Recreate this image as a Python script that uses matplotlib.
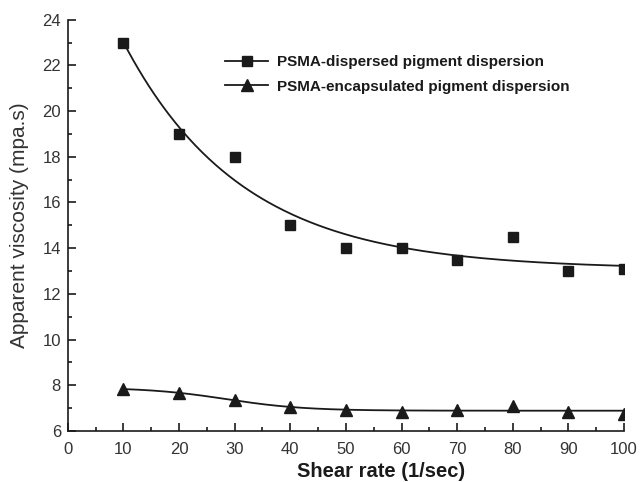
import numpy as np
import matplotlib
matplotlib.use("Agg")
import matplotlib.pyplot as plt

plt.rcParams['font.family'] = ['Liberation Sans', 'DejaVu Sans']

shear_rate = [10, 20, 30, 40, 50, 60, 70, 80, 90, 100]
dispersed = [23.0, 19.0, 18.0, 15.0, 14.0, 14.0, 13.5, 14.5, 13.0, 13.1]
encapsulated = [7.84, 7.65, 7.35, 7.05, 6.92, 6.84, 6.93, 7.08, 6.84, 6.75]

label_disp = 'PSMA-dispersed pigment dispersion'
label_enc = 'PSMA-encapsulated pigment dispersion'
ink = '#1a1a1a'


def exp_fit(x, y):
    # exponential decay y = y0 + A*exp(-x/t)
    x = np.asarray(x, float)
    y = np.asarray(y, float)
    best = None
    for t in np.linspace(2, 80, 800):
        M = np.column_stack([np.ones_like(x), np.exp(-x / t)])
        coef = np.linalg.lstsq(M, y, rcond=None)[0]
        err = np.sum((M @ coef - y) ** 2)
        if best is None or err < best[0]:
            best = (err, coef, t)
    _, (y0, a), t = best
    return lambda xx: y0 + a * np.exp(-xx / t)


def boltzmann_fit(x, y):
    # sigmoid y = A2 + (A1-A2)/(1+exp((x-x0)/dx))
    x = np.asarray(x, float)
    y = np.asarray(y, float)
    best = None
    for x0 in np.linspace(0, 60, 121):
        for dx in np.linspace(3, 30, 55):
            s = 1 / (1 + np.exp((x - x0) / dx))
            M = np.column_stack([np.ones_like(x), s])
            coef = np.linalg.lstsq(M, y, rcond=None)[0]
            err = np.sum((M @ coef - y) ** 2)
            if best is None or err < best[0]:
                best = (err, coef, x0, dx)
    _, (a2, d), x0, dx = best
    return lambda xx: a2 + d / (1 + np.exp((xx - x0) / dx))


xs = np.linspace(shear_rate[0], shear_rate[-1], 300)
f1 = exp_fit(shear_rate, dispersed)
f2 = boltzmann_fit(shear_rate, encapsulated)

fig = plt.figure(figsize=(6.4, 4.82), dpi=100)
ax = fig.add_axes([0.106, 0.106, 0.869, 0.853])

ax.plot(xs, f1(xs), color=ink, lw=1.3)
ax.plot(xs, f2(xs), color=ink, lw=1.3)
ax.plot(shear_rate, dispersed, 's', color=ink, ms=7)
ax.plot(shear_rate, encapsulated, '^', color=ink, ms=8)

# legend handles: line + marker
h1, = ax.plot([], [], '-s', color=ink, ms=7, lw=1.3)
h2, = ax.plot([], [], '-^', color=ink, ms=8, lw=1.3)
leg = ax.legend([h1, h2], [label_disp, label_enc], loc='upper left',
                bbox_to_anchor=(0.352, 0.886), bbox_transform=fig.transFigure,
                frameon=False, handlelength=2.8, handletextpad=0.6,
                labelspacing=0.7, borderpad=0, borderaxespad=0,
                prop={'weight': 'bold', 'size': 11})
for t in leg.get_texts():
    t.set_color(ink)

ax.set_xlim(0, 100)
ax.set_ylim(6, 24)
ax.set_xticks(range(0, 101, 10))
ax.set_xticks(range(5, 100, 10), minor=True)
ax.set_yticks(range(6, 25, 2))
ax.set_yticks(range(7, 24, 2), minor=True)

ax.spines['top'].set_visible(False)
ax.spines['right'].set_visible(False)
for s in ['left', 'bottom']:
    ax.spines[s].set_linewidth(1.2)
    ax.spines[s].set_color(ink)
ax.tick_params(which='both', direction='in', color=ink, width=1.2,
               labelsize=12, labelcolor='#333333')
ax.tick_params(which='major', length=6, pad=5)
ax.tick_params(axis='x', which='major', pad=8)
ax.tick_params(which='minor', length=3)

ax.set_xlabel('Shear rate (1/sec)', fontsize=14.5, fontweight='bold',
              color=ink)
ax.xaxis.set_label_coords(0.563, -0.075)
ax.set_ylabel('Apparent viscosity (mpa.s)', fontsize=15, color='#333333')
ax.yaxis.set_label_coords(-0.07, 0.5)

fig.savefig('out.png', dpi=100)
